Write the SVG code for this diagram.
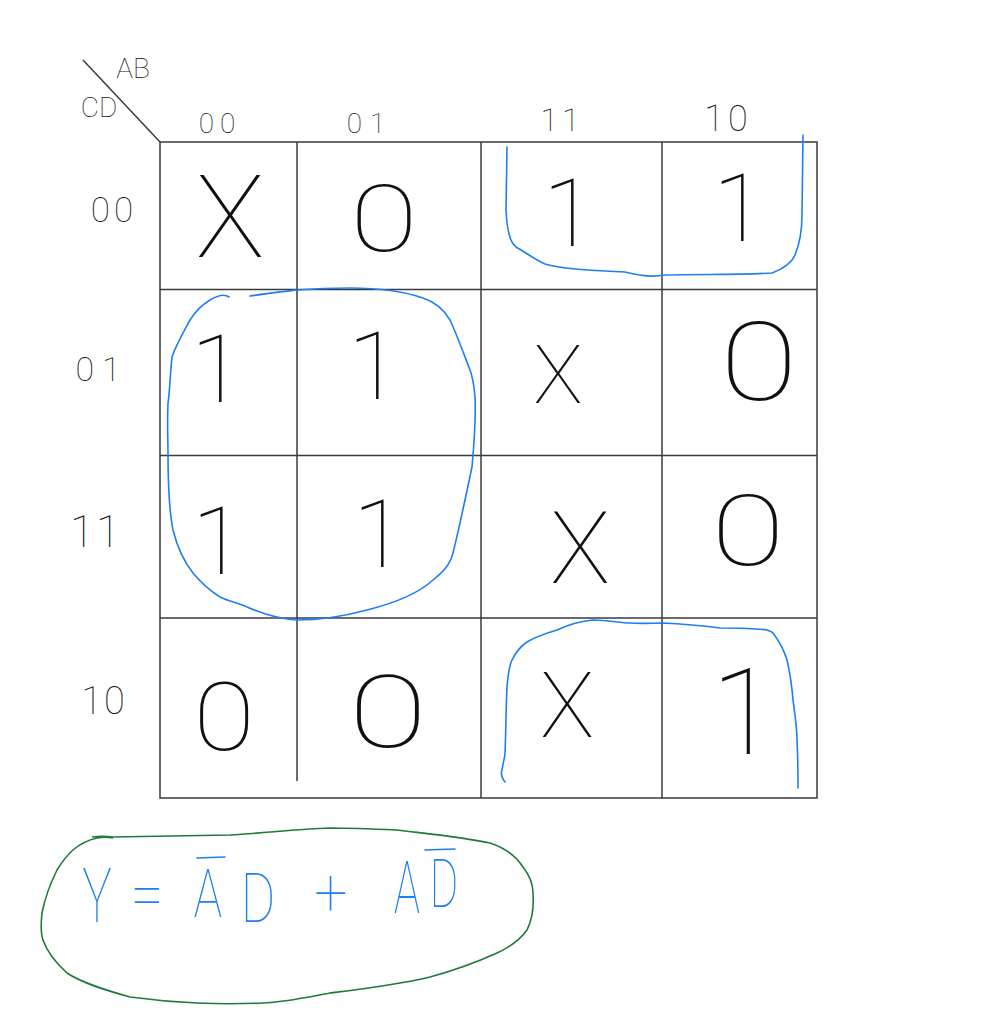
<svg xmlns="http://www.w3.org/2000/svg" width="1006" height="1017" viewBox="0 0 1006 1017">
<style>
.t{font-family:Roboto,"Liberation Sans",sans-serif;font-weight:100;fill:#111;text-anchor:middle}
.g{stroke:#3a3a3a;stroke-width:1.5;fill:none}
.b{stroke:#1e7ff0;stroke-width:1.6;fill:none;stroke-linecap:round;stroke-linejoin:round}
.eq{font-family:Roboto,"Liberation Sans",sans-serif;font-weight:100;fill:#1e7ff0;text-anchor:middle;font-size:66px}
.bar{stroke:#1e7ff0;stroke-width:1.6;stroke-linecap:round}
</style>
<rect width="1006" height="1017" fill="#fff"/>
<g id="grid">
<line class="g" x1="83" y1="60" x2="160" y2="142"/>
<rect class="g" x="160" y="142" width="657" height="656"/>
<line class="g" x1="297" y1="142" x2="297" y2="781"/>
<line class="g" x1="481" y1="142" x2="481" y2="798"/>
<line class="g" x1="662" y1="142" x2="662" y2="798"/>
<line class="g" x1="160" y1="289.5" x2="817" y2="289.5"/>
<line class="g" x1="160" y1="455.5" x2="817" y2="455.5"/>
<line class="g" x1="160" y1="618" x2="817" y2="618"/>
</g>
<g id="headers">
<text class="t" x="133" y="78" font-size="28">AB</text>
<text class="t" x="99" y="117" font-size="28">CD</text>
<text class="t" x="220" y="133" font-size="28" letter-spacing="6">00</text>
<text class="t" x="370" y="133" font-size="28" letter-spacing="8">01</text>
<text class="t" x="562" y="131" font-size="32" letter-spacing="4">11</text>
<text class="t" x="728" y="131" font-size="36" letter-spacing="4">10</text>
<text class="t" x="114" y="222" font-size="35" letter-spacing="4">00</text>
<text class="t" x="102" y="381" font-size="34" letter-spacing="8">01</text>
<text class="t" x="96" y="547" font-size="44" letter-spacing="2">11</text>
<text class="t" x="104" y="714" font-size="38" letter-spacing="2">10</text>
</g>
<g id="cells">
<text class="t" x="230" y="257" font-size="115">X</text>
<text class="t" transform="translate(384,251) scale(1.35,1)" font-size="92">0</text>
<text class="t" x="569" y="246" font-size="95">1</text>
<text class="t" x="739" y="241" font-size="95">1</text>
<text class="t" x="217" y="402" font-size="95">1</text>
<text class="t" x="374" y="399" font-size="95">1</text>
<text class="t" x="558" y="403" font-size="82">X</text>
<text class="t" transform="translate(759,400) scale(1.3,1)" font-size="110">0</text>
<text class="t" x="218" y="574" font-size="95">1</text>
<text class="t" x="379" y="567" font-size="95">1</text>
<text class="t" x="580" y="583" font-size="100">X</text>
<text class="t" transform="translate(748,565) scale(1.38,1)" font-size="98">0</text>
<text class="t" transform="translate(224,750) scale(1.2,1)" font-size="94">0</text>
<text class="t" transform="translate(388,747) scale(1.45,1)" font-size="100">0</text>
<text class="t" x="567" y="737" font-size="90">X</text>
<text class="t" x="744" y="754" font-size="120">1</text>
</g>
<g id="loops">
<path class="b" d="M507,147 L506,210 C507,232 510,243 516,247 C528,254 536,260 545,264 C560,269 600,271 625,272 C640,276 655,277 665,275 C700,274 740,275 772,273 C785,268 792,262 795,255 C800,243 802,232 802,215 L803,135"/>
<path class="b" d="M229,297 C225,294 220,294 210,300 C200,306 195,312 190,320 C183,333 176,345 172,357 C170,375 170,390 168,403 C167,425 168,440 168,453 C168,480 169,510 173,530 C178,550 185,563 193,573 C203,585 212,592 220,597 C230,602 240,603 247,607 C265,615 280,619 297,620 C320,620 345,616 367,610 C395,603 420,592 433,580 C443,572 450,565 453,553 C460,525 466,495 472,467 C474,445 476,420 475,397 C474,385 473,378 470,370 C463,352 457,335 450,320 C443,308 435,302 423,298 C400,290 375,288 350,288 C330,288 310,289 297,290 C280,292 262,294 250,296"/>
<path class="b" d="M505,782 C501,778 501,772 502,770 C503,762 505,758 505,753 C506,730 506,705 507,687 C508,675 509,666 512,660 C516,652 521,646 527,642 C537,636 547,633 557,630 C570,624 582,621 593,620 C608,620 620,623 630,623 C642,624 652,623 662,623 C685,624 705,626 720,628 C740,628 755,628 767,630 C770,631 772,632 773,633 C779,641 784,650 787,660 C790,673 792,688 793,700 C795,715 797,728 797,740 C798,758 798,772 798,788"/>
</g>
<g id="equation">
<path d="M92,837 C100,836 106,836 112,837 C150,836 190,836 230,835 C265,833 298,829 330,828 C352,828 375,829 397,830 C430,834 462,837 490,843 C505,848 516,856 523,867 C530,876 533,884 533,893 C534,907 532,920 527,930 C520,940 510,947 497,953 C475,963 452,971 430,977 C397,985 363,989 330,993 C308,997 285,1002 263,1003 C241,1004 219,1004 197,1003 C174,1002 152,1000 130,997 C105,990 82,983 67,973 C55,962 47,952 43,940 C40,931 41,922 42,913 C45,898 50,884 57,870 C62,862 67,855 73,850 C80,844 88,840 97,838 C103,837 108,837 113,838" fill="none" stroke="#1f7a3a" stroke-width="1.6"/>
<text class="eq" transform="translate(97,922) scale(0.75,1.15)">Y</text>
<text class="eq" transform="translate(147,917) scale(0.9,1)">=</text>
<text class="eq" transform="translate(208,917) scale(0.72,1)">A</text>
<text class="eq" transform="translate(258,922) scale(0.8,1.05)">D</text>
<text class="eq" transform="translate(331,915) scale(0.9,1)">+</text>
<text class="eq" transform="translate(407,913) scale(0.66,1.1)">A</text>
<text class="eq" transform="translate(444,907) scale(0.66,1)">D</text>
<line class="bar" x1="197" y1="858" x2="225" y2="857"/>
<line class="bar" x1="425" y1="850" x2="455" y2="849"/>
</g>
</svg>
